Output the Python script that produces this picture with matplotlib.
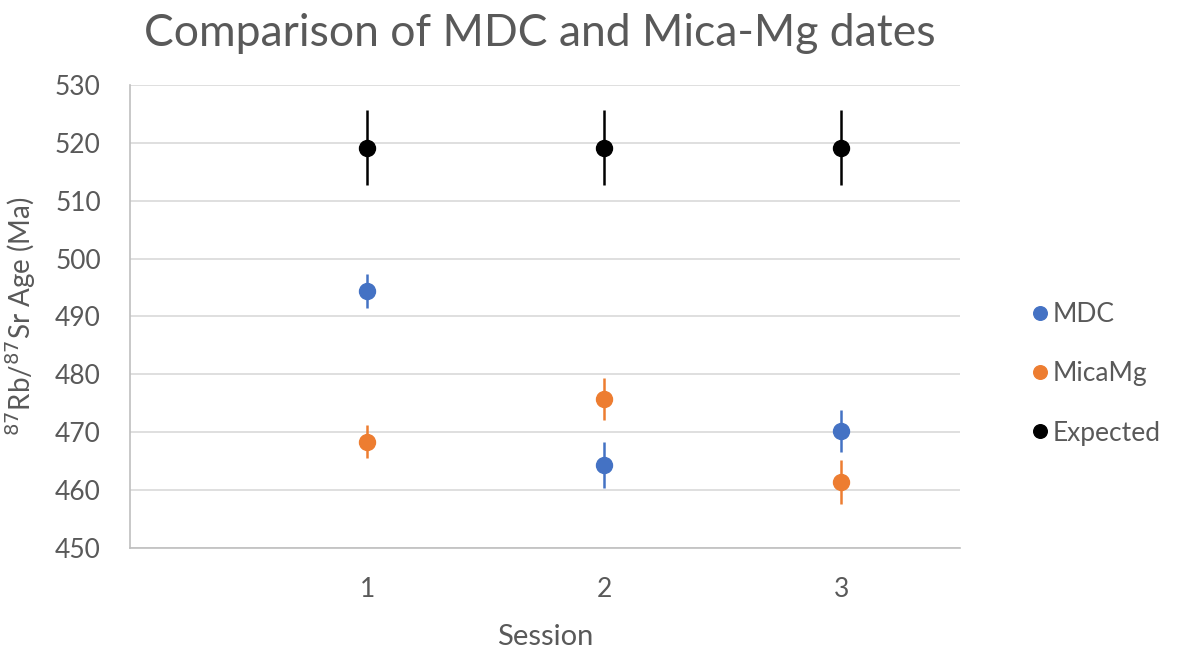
import matplotlib.pyplot as plt

plt.rcParams['font.family'] = ['Lato', 'DejaVu Sans']

sessions = [1, 2, 3]
mdc = [494.4, 464.4, 470.2]
mdc_err = [2.9, 4.0, 3.6]
micamg = [468.4, 475.7, 461.4]
micamg_err = [2.8, 3.6, 3.8]
expected = [519.2, 519.2, 519.2]
expected_err = [6.4, 6.4, 6.4]

grey = '#595959'

fig = plt.figure(figsize=(11.77, 6.52), dpi=100)
ax = fig.add_axes([130 / 1177, 1 - 548 / 652, 830 / 1177, 463 / 652])

series = [
    ('MDC', mdc, mdc_err, '#4472C4'),
    ('MicaMg', micamg, micamg_err, '#ED7D31'),
    ('Expected', expected, expected_err, '#000000'),
]
for name, vals, errs, col in series:
    ax.errorbar(sessions, vals, yerr=errs, fmt='none', ecolor=col,
                elinewidth=1.8, capsize=0, zorder=3)
    ax.plot(sessions, vals, 'o', color=col, markersize=11.5, label=name, zorder=4)

ax.set_xlim(0, 3.5)
ax.set_ylim(450, 530)
ax.set_xticks(sessions)
ax.set_yticks(range(450, 531, 10))
ax.grid(axis='y', color='#d9d9d9', linewidth=1.2)
ax.set_axisbelow(True)
for s in ['top', 'right']:
    ax.spines[s].set_visible(False)
for s in ['left', 'bottom']:
    ax.spines[s].set_color('#bfbfbf')
    ax.spines[s].set_linewidth(1.2)
ax.tick_params(axis='both', length=0, labelsize=19, labelcolor=grey)
ax.tick_params(axis='x', pad=21)
ax.tick_params(axis='y', pad=21)

ax.set_xlabel('Session', fontsize=21, color=grey, labelpad=16)
ax.set_ylabel(r'$^{87}$Rb/$^{87}$Sr Age (Ma)', fontsize=20, color=grey, labelpad=12)

fig.text(540 / 1177, 1 - 33 / 652, 'Comparison of MDC and Mica-Mg dates',
         ha='center', va='center', fontsize=32, color=grey)

leg = ax.legend(loc='center left', bbox_to_anchor=(1.053, 0.376), frameon=False,
                fontsize=19, handletextpad=0.05, labelspacing=1.3, handlelength=0.9,
                markerscale=0.85)
for t in leg.get_texts():
    t.set_color(grey)

fig.savefig('out.png', dpi=100)
